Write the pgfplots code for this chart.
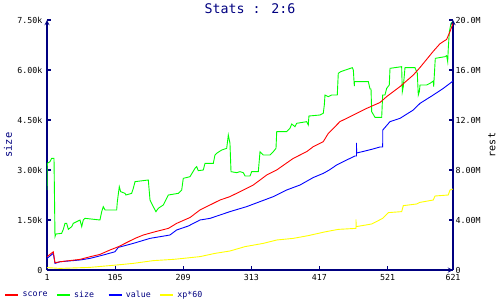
\documentclass[border=0pt]{standalone}
\usepackage{pgfplots}
\pgfplotsset{compat=1.18}
\usepackage{fontspec}
\setmainfont{DejaVu Sans Mono}
\definecolor{navy}{RGB}{0,0,128}
\definecolor{cred}{RGB}{255,0,0}
\definecolor{cgreen}{RGB}{0,255,0}
\definecolor{cblue}{RGB}{0,0,255}
\definecolor{cyellow}{RGB}{255,255,0}

\pgfplotstableread{
x y
1 2400
1.5 3200
5.6 3250
8.1 3350
11.7 3350
13.2 1000
14.7 1080
23.4 1100
25.9 1220
28.5 1400
31 1400
33.6 1220
38.7 1300
41.2 1400
51.4 1500
54 1300
56.4 1500
59 1550
81.9 1500
84.5 1750
87 1900
89.6 1800
107.4 1800
108.4 2050
111.4 2500
113.5 2350
120.1 2300
121.6 2250
130.3 2300
132.8 2450
135.4 2650
155.7 2700
158.3 2100
163.3 1900
167.4 1750
170.9 1850
178.6 1950
181.2 2050
186.2 2250
201.5 2300
206.7 2400
209.1 2750
219.4 2800
227 3050
229.6 3100
232 2980
239.7 3000
242.3 3200
255 3200
257.5 3450
260 3500
267.8 3600
275.4 3650
277.9 4050
280.4 3800
282 2950
290.7 2920
295.7 2950
300.8 2920
303.4 2820
311 2820
313.6 2950
323.7 2950
326.3 3550
331.3 3450
341.5 3450
346.6 3550
350.7 3650
351.8 4150
367 4150
372 4250
374.7 4380
379.7 4300
382.3 4400
397.6 4450
400 4350
401 4620
417.9 4650
422.9 4700
424.5 4950
425.5 5250
430.6 5200
435.7 5250
444.3 5250
445.8 5900
449.5 5950
467.2 6070
468.8 6000
470.3 5520
470.5 5650
491.7 5650
494.3 5430
495.8 5430
496.8 4750
501.9 4580
512.1 4580
513.6 5250
517.1 5250
519.7 5450
523.7 5550
524.8 6050
542.6 6100
543.6 5350
545.1 5500
547.7 6070
563 6070
566.5 5900
568 5250
569.6 5350
570.6 5550
580.8 5550
585.9 5600
590.9 5670
591.5 5500
593.5 6200
594 6350
608.8 6400
611.3 6430
612.9 6250
613.8 6650
615.4 7150
618 7400
620.6 7450
}\sizedata

\pgfplotstableread{
x y
1 1.06
10.6 1.46
13.2 0.58
20.9 0.66
51.4 0.85
66.7 1.06
82 1.25
97.2 1.6
109.9 1.86
120.1 2.13
135.4 2.53
148.1 2.8
166 3.06
186.3 3.33
199 3.73
219.4 4.2
234.6 4.8
249.9 5.2
265.2 5.6
280.4 5.87
300.8 6.4
316 6.8
326.3 7.2
336.5 7.6
351.7 8.0
377.1 8.93
397.6 9.47
407.7 9.87
422.9 10.27
430.6 10.93
438.2 11.33
448.4 11.87
468.8 12.4
489.2 12.93
509.5 13.4
519.7 13.87
540 14.67
560.4 15.6
570.6 16.2
590.9 17.5
601.1 18.1
611.3 18.45
616.4 19.07
621 19.73
}\scoredata

\pgfplotstableread{
x y
1 0.93
10.6 1.33
13.2 0.53
20.9 0.66
51.4 0.8
66.7 0.93
87 1.2
104.8 1.46
109.9 1.81
132.8 2.13
158.3 2.53
188.8 2.8
199 3.2
216.8 3.52
234.6 4.0
249.9 4.13
265.2 4.4
280.4 4.67
305.9 5.07
326.3 5.47
346.6 5.87
367 6.4
387.4 6.8
407.7 7.4
422.9 7.73
432.1 8.0
443.3 8.4
458.6 8.8
471.3 9.12
473.6 9.12
473.6 10.16
473.8 9.36
483.5 9.48
498.8 9.68
509.5 9.84
513.6 9.84
513.8 11.2
524.8 11.87
540 12.13
560.4 12.8
570.6 13.33
590.9 14.0
606.2 14.53
616.4 14.93
621 15.12
}\valuedata

\pgfplotstableread{
x y
1 0.19
20.9 0.13
66.7 0.21
107.4 0.4
132.8 0.53
163.3 0.75
193.8 0.85
209.1 0.93
234.6 1.07
257.6 1.33
280.4 1.52
303.4 1.87
331.3 2.13
351.7 2.4
377.1 2.53
400 2.75
425.5 3.05
445.8 3.25
472.8 3.33
472.8 4.05
473.2 3.47
496.8 3.68
513.6 4.13
522.2 4.59
542.6 4.67
545.1 5.15
565.5 5.28
570.6 5.41
590.9 5.6
593.5 5.92
613.8 6.0
616.4 6.4
621 6.48
}\xpdata

\begin{document}
\begin{tikzpicture}
\useasboundingbox (0,0) rectangle (500pt,300pt);
\pgfplotsset{
  common/.style={
    scale only axis, width=406pt, height=250pt,
    at={(47pt,30pt)}, anchor=south west,
    xmin=1, xmax=621,
    axis line style={navy, line width=1.3pt, -},
    major tick style={navy, line width=1.1pt},
    major tick length=4pt,
    ticklabel style={font=\fontsize{8.3}{9}\selectfont, black},
    label style={font=\fontsize{10.4}{11}\selectfont, navy},
    every axis plot/.append style={line width=0.9pt},
  }
}
\begin{axis}[common,
  axis x line=bottom, axis y line=left,
  tick align=inside,
  ymin=0, ymax=7500,
  xtick={1,105,209,313,417,521,621},
  xticklabels={1,105,209,313,417,521,621},
  xticklabel style={yshift=-1pt},
  ytick={0,1500,3000,4500,6000,7500},
  yticklabels={0,1.50k,3.00k,4.50k,6.00k,7.50k},
  yticklabel style={xshift=-1pt},
  ylabel={size},
  ylabel style={at={(axis description cs:-0.0961,0.5)}, anchor=center},
  title={Stats : 2:6},
  title style={font=\fontsize{13.3}{14}\selectfont, navy, at={(axis description cs:0.5,1.022)}, anchor=center},
]
\addplot[cgreen] table[x=x,y=y] {\sizedata};
\end{axis}
\begin{axis}[common,
  axis x line=none, axis y line=right,
  tick align=inside,
  ymin=0, ymax=20,
  ytick={0,4,8,12,16,20},
  yticklabels={0,4.00M,8.00M,12.0M,16.0M,20.0M},
  yticklabel style={xshift=-1pt},
  ylabel={rest},
  ylabel style={at={(axis description cs:1.0961,0.5)}, anchor=center, rotate=0},
  legend columns=4,
  legend style={draw=none, fill=none, at={(axis description cs:-0.1059,-0.1)}, anchor=west,
    inner sep=0pt, outer sep=0pt,
    nodes={inner sep=0pt, font=\fontsize{8.3}{9}\selectfont, text=navy},
    /tikz/every odd column/.append style={column sep=3pt},
    /tikz/every even column/.append style={column sep=0pt}},
  legend image code/.code={\draw[line width=2.6pt] (0pt,0pt) -- (13pt,0pt);},
]
\addlegendimage{cred}
\addlegendentry{\makebox[33pt][l]{score}}
\addlegendimage{cgreen}
\addlegendentry{\makebox[33pt][l]{size}}
\addlegendimage{cblue}
\addlegendentry{\makebox[33pt][l]{value}}
\addlegendimage{cyellow}
\addlegendentry{\makebox[33pt][l]{xp*60}}
\addplot[cyellow, forget plot] table[x=x,y=y] {\xpdata};
\addplot[cblue, forget plot] table[x=x,y=y] {\valuedata};
\addplot[cred, forget plot] table[x=x,y=y] {\scoredata};
\end{axis}
\end{tikzpicture}
\end{document}
